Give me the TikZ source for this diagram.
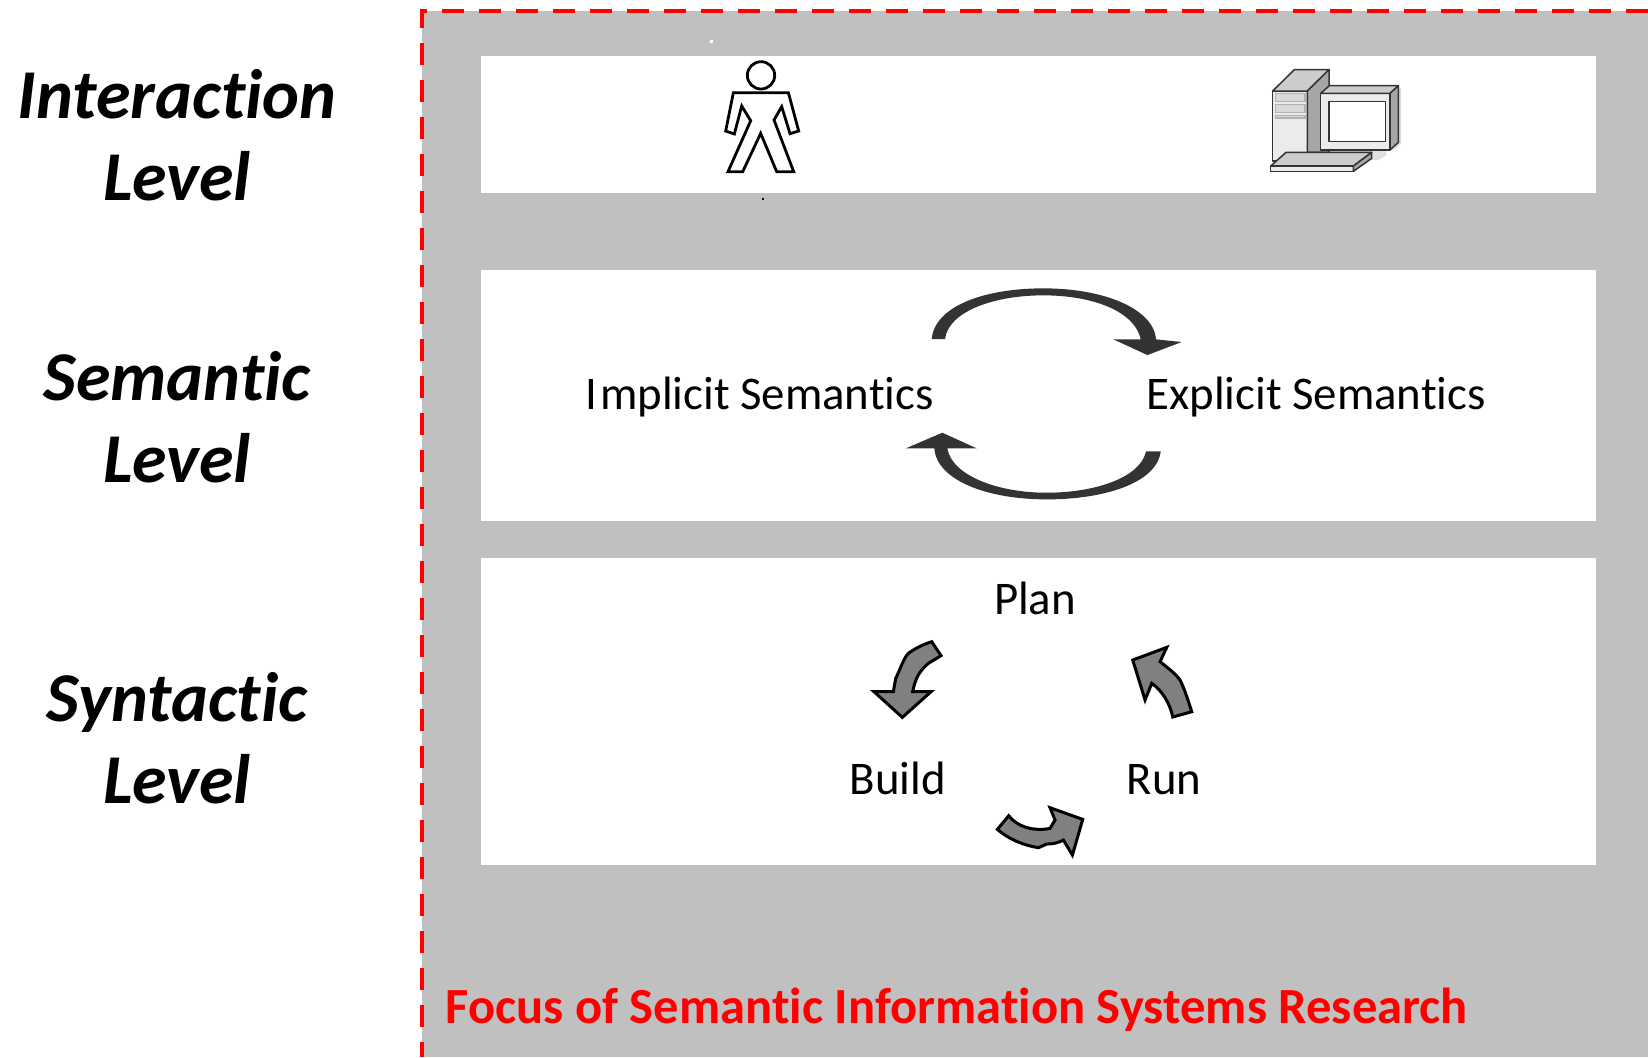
\documentclass[tikz,border=0pt]{standalone}
\usepackage{fontspec}
\setmainfont[Ligatures=NoCommon]{Carlito}
\definecolor{panelgray}{HTML}{C0C0C0}
\definecolor{loopdark}{HTML}{333333}
\definecolor{arrowgray}{HTML}{808080}
\definecolor{focusred}{HTML}{FF0000}
\tikzset{
  panel/.style={fill=white,draw=none},
  levellabel/.style={font=\fontsize{35}{35}\selectfont\bfseries\itshape,text=black,inner sep=0pt,align=center},
  midlabel/.style={font=\fontsize{23.4}{23.4}\selectfont,text=black,inner sep=0pt},
  loopshape/.style={fill=loopdark,draw=none},
  cyclearrow/.style={fill=arrowgray,draw=black,line width=1.5pt,line join=miter},
  pc/.style={draw=black!80,line width=0.75pt,line join=round},
  personline/.style={draw=black,line width=1.4pt,line join=miter,fill=white}
}
\begin{document}
\begin{tikzpicture}[x=0.5pt,y=-0.5pt]
\useasboundingbox (0,0) rectangle (1648,1057);
\fill[panelgray] (422,11) rectangle (1648,1057);
\draw[focusred,line width=1.7pt,dash pattern=on 11pt off 7.5pt] (1648,11) -- (422,11) -- (422,1057);
\fill[panel] (481,56) rectangle (1596,193);
\fill[panel] (481,270) rectangle (1596,521);
\fill[panel] (481,558) rectangle (1596,865);
% specks
\fill[white] (710,40) rectangle (713,43);
\fill[black] (762,198) rectangle (764,200);
% level labels
\node[levellabel,anchor=base] (l1a) at (177,118) {Interaction};
\node[levellabel,anchor=base] (l1b) at (177,200) {Level};
\node[levellabel,anchor=base] (l2a) at (177,400) {Semantic};
\node[levellabel,anchor=base] (l2b) at (177,482) {Level};
\node[levellabel,anchor=base] (l3a) at (177,721) {Syntactic};
\node[levellabel,anchor=base] (l3b) at (177,803) {Level};
% person
\begin{scope}[shift={(680,30)},x=0.1667pt,y=-0.1667pt]
\draw[personline] (160,188) -- (325,188) -- (356,303) -- (330,311) -- (305,230) -- (282,270) -- (341,425) -- (290,425) -- (242,310) -- (188,425) -- (144,425) -- (212,272) -- (185,228) -- (163,312) -- (137,303) -- cycle;
\draw[personline] (243,136) circle[x radius=41,y radius=41];
\end{scope}
% computer
\begin{scope}[shift={(1250,55)},x=0.1667pt,y=-0.1667pt]
\fill[black!12] (240,285) -- (405,285) -- (410,300) -- (385,315) -- (240,315) -- cycle;
\fill[black!15] (445,100) -- (453,100) -- (453,265) -- (425,290) -- (445,262) -- cycle;
\draw[pc,fill=black!8] (68,108) rectangle (172,318);
\draw[pc,fill=black!20] (68,108) -- (133,44) -- (237,44) -- (172,108) -- cycle;
\draw[pc,fill=black!35] (172,108) -- (237,44) -- (237,292) -- (172,292) -- cycle;
\draw[draw=black!30,line width=0.6pt,fill=black!15] (76,116) rectangle (165,140);
\draw[draw=black!30,line width=0.6pt,fill=black!15] (76,149) rectangle (165,173);
\draw[draw=black!30,line width=0.6pt,fill=black!15] (76,181) rectangle (165,189);
\draw[pc,fill=black!8] (212,115) rectangle (420,285);
\draw[pc,fill=black!20] (212,115) -- (238,92) -- (445,92) -- (420,115) -- cycle;
\draw[pc,fill=black!35] (420,115) -- (445,92) -- (445,262) -- (420,285) -- cycle;
\draw[pc,fill=white] (237,140) rectangle (406,260);
\draw[pc,fill=black!20] (62,333) -- (108,292) -- (365,292) -- (310,333) -- cycle;
\draw[pc,fill=black!8] (62,333) rectangle (310,349);
\draw[pc,fill=black!35] (310,333) -- (365,292) -- (365,310) -- (310,349) -- cycle;
\end{scope}
% semantic loop
\node[midlabel,anchor=base west] (impl) at (585,409) {I\kern1.5pt mplicit Semantics};
\node[midlabel,anchor=base west] (expl) at (1146,409) {Explicit Semantics};
\begin{scope}[shift={(890,270)},x=0.1667pt,y=-0.1667pt]
\fill[loopshape] (125,207) .. controls (135,105) and (290,55) .. (460,55)
  .. controls (640,55) and (790,115) .. (798,208) -- (875,216) -- (772,255) -- (670,208) -- (752,208)
  .. controls (735,125) and (610,76) .. (460,76)
  .. controls (310,76) and (175,125) .. (165,207) -- cycle;
\fill[loopshape] (812,544) .. controls (800,640) and (640,688) .. (470,688)
  .. controls (290,688) and (140,630) .. (133,535) -- (47,535) -- (157,488) -- (260,535) -- (172,535)
  .. controls (185,615) and (320,668) .. (470,668)
  .. controls (610,668) and (750,625) .. (768,544) -- cycle;
\end{scope}
% syntactic cycle
\node[midlabel,anchor=base] (plan) at (1035,614) {Plan};
\node[midlabel,anchor=base] (build) at (898,794) {Build};
\node[midlabel,anchor=base] (run) at (1164,794) {Run};
\begin{scope}[shift={(850,620)},x=0.1667pt,y=-0.1667pt]
\draw[cyclearrow] (245,65) -- (273,107) -- (235,130) .. controls (205,155) and (195,180) .. (188,215) -- (243,215) -- (157,292) -- (72,215) -- (130,215) -- (137,175) .. controls (150,150) and (160,115) .. (175,100) .. controls (195,85) and (220,73) .. (245,65) -- cycle;
\draw[cyclearrow] (1025,275) -- (968,291) .. controls (960,250) and (935,210) .. (905,190) -- (885,240) -- (848,120) -- (950,82) -- (930,125) .. controls (955,145) and (975,160) .. (990,180) .. controls (1005,210) and (1015,245) .. (1025,275) -- cycle;
\draw[cyclearrow] (476,587) -- (442,628) .. controls (480,660) and (520,675) .. (565,683) -- (590,672) .. controls (610,672) and (625,668) .. (640,660) -- (667,705) -- (698,598) -- (600,563) -- (615,600) -- (600,625) .. controls (570,632) and (510,630) .. (476,587) -- cycle;
\end{scope}
% focus caption
\node[anchor=base west,inner sep=0pt,text=focusred,font=\fontsize{25.3}{25.3}\selectfont\bfseries] (focus) at (445,1023) {Focus of Semantic Information Systems Research};
\end{tikzpicture}
\end{document}
